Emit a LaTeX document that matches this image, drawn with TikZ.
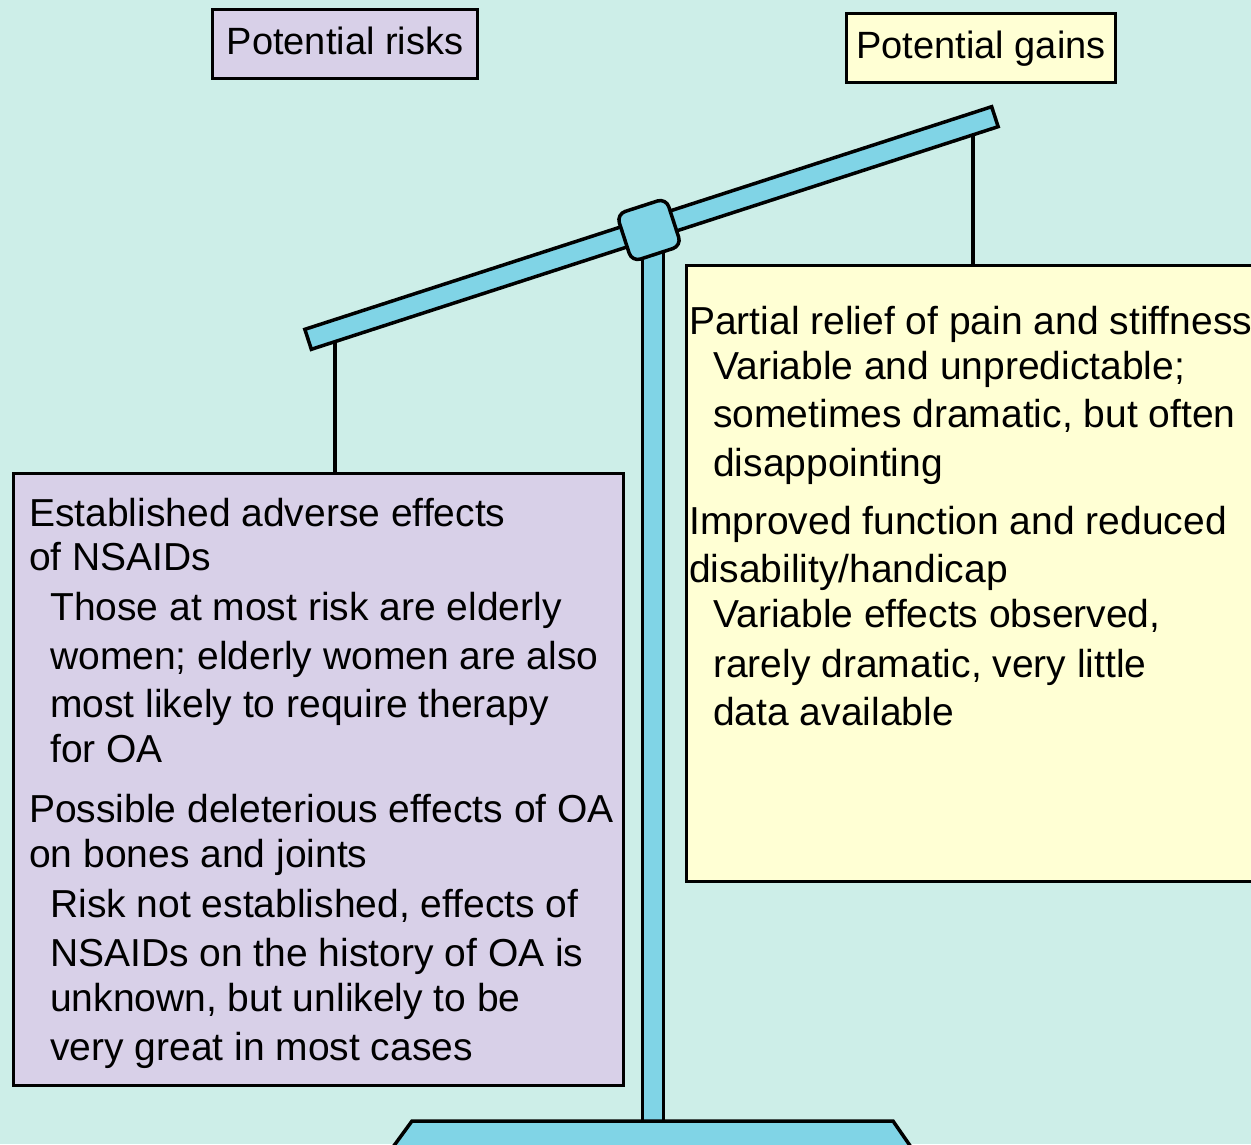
\documentclass[tikz,border=0pt]{standalone}
\usepackage{fontspec}
\setmainfont{Liberation Sans}
\definecolor{bgteal}{HTML}{CDEEE8}
\definecolor{riskfill}{HTML}{D8D0E8}
\definecolor{gainfill}{HTML}{FFFFD4}
\definecolor{scaleblue}{HTML}{80D4E6}
\tikzset{
  outline/.style={draw=black, line width=3.5pt},
  panel/.style={outline, anchor=north west, inner sep=0pt},
  titlebox/.style={outline, inner sep=0pt, text height=28pt, text depth=8pt,
    font=\fontsize{38}{46}\selectfont},
  metal/.style={outline, fill=scaleblue, inner sep=0pt},
  cord/.style={draw=black, line width=3.5pt},
  txt/.style={anchor=base west, inner sep=0pt, font=\fontsize{39}{47}\selectfont}
}
\begin{document}
\begin{tikzpicture}[x=1pt, y=-1pt]
  % page and background
  \useasboundingbox (0,0) rectangle (1251,1144);
  \clip (0,0) rectangle (1251,1144);
  \fill[bgteal] (0,0) rectangle (1251,1144);

  % headings above the two pans
  \node[titlebox, fill=riskfill, minimum width=265, minimum height=69] (risktitle) at (345,44) {Potential risks};
  \node[titlebox, fill=gainfill, minimum width=269, minimum height=69] (gaintitle) at (981,48) {Potential gains};

  % the two pans
  \node[panel, fill=riskfill, minimum width=610, minimum height=612] (riskbox) at (11.5,471.5) {};
  \node[panel, fill=gainfill, minimum width=590, minimum height=616] (gainbox) at (684.5,263.5) {};

  % hanging cords
  \coordinate (lhook) at (335,331);
  \coordinate (rhook) at (973,124);
  \draw[cord] (lhook) -- (lhook |- riskbox.north);
  \draw[cord] (rhook) -- (rhook |- gainbox.north);

  % post, beam, pivot and foot of the balance
  \node[metal, minimum width=21, minimum height=886, anchor=north] (post) at (653,235) {};
  \node[metal, minimum width=722, minimum height=21, rotate=17.96] (beam) at (651.5,228) {};
  \node[metal, minimum width=52, minimum height=50, rounded corners=9pt, rotate=17.96] (pivot) at (649,230) {};
  \coordinate (footTL) at (412,1121);
  \coordinate (footTR) at (893,1121);
  \coordinate (footBR) at (911,1147);
  \coordinate (footBL) at (393,1147);
  \draw[outline, fill=scaleblue] (footTL) -- (footTR) -- (footBR) -- (footBL) -- cycle;

  % risks
  \node[txt] (r1)  at (29,526)  {Established adverse effects};
  \node[txt] (r2)  at (29,570)  {of NSAIDs};
  \node[txt] (r3)  at (50,620)  {Those at most risk are elderly};
  \node[txt] (r4)  at (50,669)  {women; elderly women are also};
  \node[txt] (r5)  at (50,717)  {most likely to require therapy};
  \node[txt] (r6)  at (50,762)  {for OA};
  \node[txt] (r7)  at (29,822)  {Possible deleterious effects of OA};
  \node[txt] (r8)  at (29,867)  {on bones and joints};
  \node[txt] (r9)  at (50,917)  {Risk not established, effects of};
  \node[txt] (r10) at (50,966)  {NSAIDs on the history of OA is};
  \node[txt] (r11) at (50,1011) {unknown, but unlikely to be};
  \node[txt] (r12) at (50,1060) {very great in most cases};

  % gains
  \node[txt] (g1) at (689,334) {Partial relief of pain and stiffness};
  \node[txt] (g2) at (713,379) {Variable and unpredictable;};
  \node[txt] (g3) at (713,427) {sometimes dramatic, but often};
  \node[txt] (g4) at (713,476) {disappointing};
  \node[txt] (g5) at (689,534) {Improved function and reduced};
  \node[txt] (g6) at (689,582) {disability/handicap};
  \node[txt] (g7) at (713,627) {Variable effects observed,};
  \node[txt] (g8) at (713,677) {rarely dramatic, very little};
  \node[txt] (g9) at (713,725) {data available};
\end{tikzpicture}
\end{document}
